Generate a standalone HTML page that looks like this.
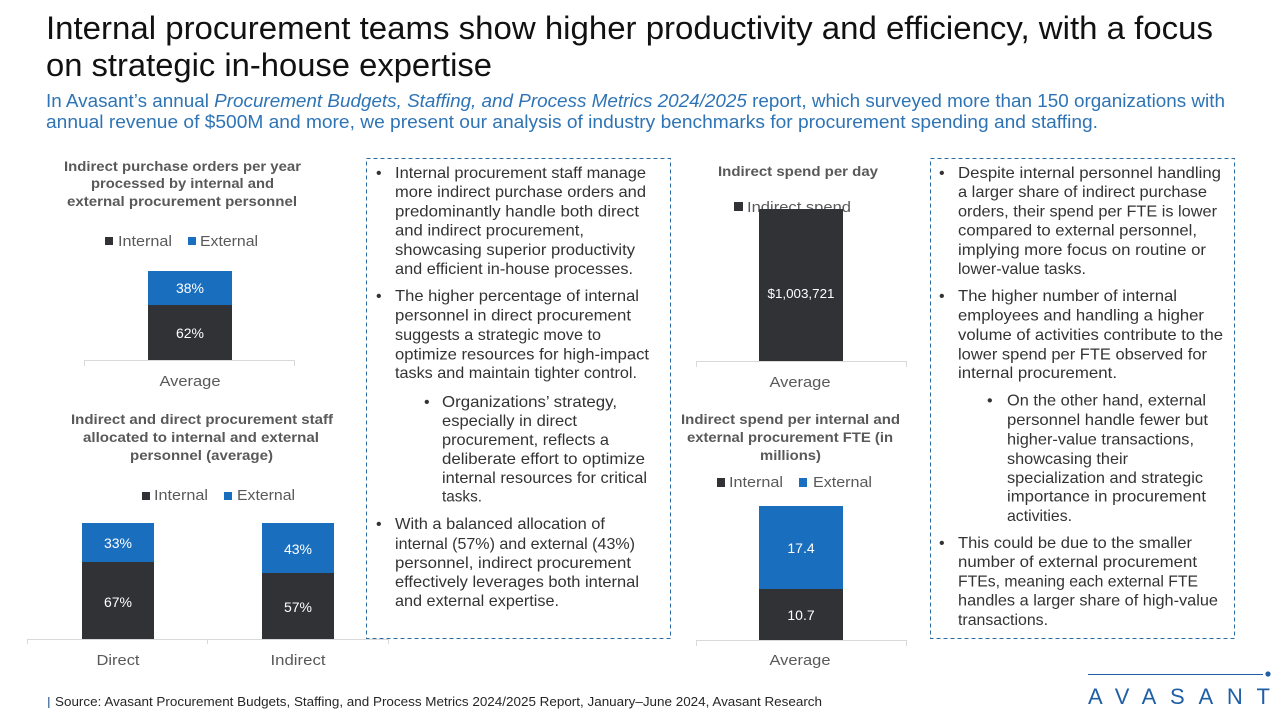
<!DOCTYPE html>
<html>
<head>
<meta charset="utf-8">
<style>
  html,body{margin:0;padding:0;background:#fff;}
  svg{display:block;}
  text{font-family:"Liberation Sans", Arial, sans-serif;}
</style>
</head>
<body>
<svg width="1280" height="720" viewBox="0 0 1280 720" xmlns="http://www.w3.org/2000/svg">
  <rect x="0" y="0" width="1280" height="720" fill="#ffffff"/>

  <!-- Title -->
  <text x="46" y="39" font-size="32" fill="#111" textLength="1167" lengthAdjust="spacingAndGlyphs">Internal procurement teams show higher productivity and efficiency, with a focus</text>
  <text x="46" y="76" font-size="32" fill="#111" textLength="446" lengthAdjust="spacingAndGlyphs">on strategic in-house expertise</text>

  <!-- Subtitle -->
  <text x="46" y="107" font-size="18" fill="#2e74b5" textLength="1179" lengthAdjust="spacingAndGlyphs">In Avasant’s annual <tspan font-style="italic">Procurement Budgets, Staffing, and Process Metrics 2024/2025</tspan> report, which surveyed more than 150 organizations with</text>
  <text x="46" y="128" font-size="18" fill="#2e74b5" textLength="1052" lengthAdjust="spacingAndGlyphs">annual revenue of $500M and more, we present our analysis of industry benchmarks for procurement spending and staffing.</text>

  <!-- ============ Chart 1 ============ -->
  <g font-weight="bold" font-size="14" fill="#595959">
    <text x="64" y="171" textLength="237" lengthAdjust="spacingAndGlyphs">Indirect purchase orders per year</text>
    <text x="91" y="188" textLength="183" lengthAdjust="spacingAndGlyphs">processed by internal and</text>
    <text x="67" y="206" textLength="230" lengthAdjust="spacingAndGlyphs">external procurement personnel</text>
  </g>
  <rect x="105" y="237" width="8" height="8" fill="#303236"/>
  <text x="118" y="246" font-size="15" fill="#595959" textLength="54" lengthAdjust="spacingAndGlyphs">Internal</text>
  <rect x="188" y="237" width="8" height="8" fill="#1a6ebe"/>
  <text x="200" y="246" font-size="15" fill="#595959" textLength="58" lengthAdjust="spacingAndGlyphs">External</text>
  <rect x="148" y="271" width="84" height="34" fill="#1a6ebe"/>
  <rect x="148" y="305" width="84" height="55" fill="#303236"/>
  <text x="190" y="293" font-size="14" fill="#fff" text-anchor="middle">38%</text>
  <text x="190" y="338" font-size="14" fill="#fff" text-anchor="middle">62%</text>
  <path d="M84.5 366 V360.5 H294.5 V366" fill="none" stroke="#d9d9d9" stroke-width="1"/>
  <text x="190" y="386" font-size="15" fill="#595959" text-anchor="middle" textLength="61" lengthAdjust="spacingAndGlyphs">Average</text>

  <!-- ============ Chart 2 ============ -->
  <g font-weight="bold" font-size="14" fill="#595959">
    <text x="71" y="424" textLength="262" lengthAdjust="spacingAndGlyphs">Indirect and direct procurement staff</text>
    <text x="83" y="442" textLength="236" lengthAdjust="spacingAndGlyphs">allocated to internal and external</text>
    <text x="130" y="460" textLength="143" lengthAdjust="spacingAndGlyphs">personnel (average)</text>
  </g>
  <rect x="142" y="492" width="8" height="8" fill="#303236"/>
  <text x="154" y="500" font-size="15" fill="#595959" textLength="54" lengthAdjust="spacingAndGlyphs">Internal</text>
  <rect x="224" y="492" width="8" height="8" fill="#1a6ebe"/>
  <text x="237" y="500" font-size="15" fill="#595959" textLength="58" lengthAdjust="spacingAndGlyphs">External</text>
  <rect x="82" y="523" width="72" height="39" fill="#1a6ebe"/>
  <rect x="82" y="562" width="72" height="77" fill="#303236"/>
  <rect x="262" y="523" width="72" height="50" fill="#1a6ebe"/>
  <rect x="262" y="573" width="72" height="66" fill="#303236"/>
  <text x="118" y="548" font-size="14" fill="#fff" text-anchor="middle">33%</text>
  <text x="118" y="607" font-size="14" fill="#fff" text-anchor="middle">67%</text>
  <text x="298" y="554" font-size="14" fill="#fff" text-anchor="middle">43%</text>
  <text x="298" y="612" font-size="14" fill="#fff" text-anchor="middle">57%</text>
  <path d="M27.5 644 V639.5 H388.5 V644 M207.5 639.5 V644" fill="none" stroke="#d9d9d9" stroke-width="1"/>
  <text x="118" y="665" font-size="15" fill="#595959" text-anchor="middle" textLength="43" lengthAdjust="spacingAndGlyphs">Direct</text>
  <text x="298" y="665" font-size="15" fill="#595959" text-anchor="middle" textLength="55" lengthAdjust="spacingAndGlyphs">Indirect</text>

  <!-- ============ Text box 1 ============ -->
  <rect x="366.5" y="158.5" width="304" height="480" fill="none" stroke="#2e6da4" stroke-width="1" stroke-dasharray="4 3"/>
  <g font-size="16" fill="#333">
    <text x="376" y="178">•</text>
    <text x="395" y="178" textLength="251" lengthAdjust="spacingAndGlyphs">Internal procurement staff manage</text>
    <text x="395" y="197" textLength="251" lengthAdjust="spacingAndGlyphs">more indirect purchase orders and</text>
    <text x="395" y="216.5" textLength="244" lengthAdjust="spacingAndGlyphs">predominantly handle both direct</text>
    <text x="395" y="235.5" textLength="189" lengthAdjust="spacingAndGlyphs">and indirect procurement,</text>
    <text x="395" y="255" textLength="240" lengthAdjust="spacingAndGlyphs">showcasing superior productivity</text>
    <text x="395" y="274" textLength="238" lengthAdjust="spacingAndGlyphs">and efficient in-house processes.</text>

    <text x="376" y="301">•</text>
    <text x="395" y="301" textLength="244" lengthAdjust="spacingAndGlyphs">The higher percentage of internal</text>
    <text x="395" y="320.5" textLength="236" lengthAdjust="spacingAndGlyphs">personnel in direct procurement</text>
    <text x="395" y="340" textLength="206" lengthAdjust="spacingAndGlyphs">suggests a strategic move to</text>
    <text x="395" y="359.5" textLength="254" lengthAdjust="spacingAndGlyphs">optimize resources for high-impact</text>
    <text x="395" y="378" textLength="242" lengthAdjust="spacingAndGlyphs">tasks and maintain tighter control.</text>

    <text x="424" y="407">•</text>
    <text x="442" y="407" textLength="175" lengthAdjust="spacingAndGlyphs">Organizations’ strategy,</text>
    <text x="442" y="426" textLength="135" lengthAdjust="spacingAndGlyphs">especially in direct</text>
    <text x="442" y="445" textLength="167" lengthAdjust="spacingAndGlyphs">procurement, reflects a</text>
    <text x="442" y="464" textLength="203" lengthAdjust="spacingAndGlyphs">deliberate effort to optimize</text>
    <text x="442" y="483" textLength="205" lengthAdjust="spacingAndGlyphs">internal resources for critical</text>
    <text x="442" y="501.5" textLength="40" lengthAdjust="spacingAndGlyphs">tasks.</text>

    <text x="376" y="529">•</text>
    <text x="395" y="529" textLength="210" lengthAdjust="spacingAndGlyphs">With a balanced allocation of</text>
    <text x="395" y="549" textLength="240" lengthAdjust="spacingAndGlyphs">internal (57%) and external (43%)</text>
    <text x="395" y="568" textLength="236" lengthAdjust="spacingAndGlyphs">personnel, indirect procurement</text>
    <text x="395" y="587" textLength="244" lengthAdjust="spacingAndGlyphs">effectively leverages both internal</text>
    <text x="395" y="606" textLength="164" lengthAdjust="spacingAndGlyphs">and external expertise.</text>
  </g>

  <!-- ============ Chart 3 ============ -->
  <text x="718" y="176" font-weight="bold" font-size="14" fill="#595959" textLength="160" lengthAdjust="spacingAndGlyphs">Indirect spend per day</text>
  <rect x="734" y="202" width="9" height="9" fill="#303236"/>
  <text x="747" y="212" font-size="15" fill="#595959" textLength="104" lengthAdjust="spacingAndGlyphs">Indirect spend</text>
  <rect x="759" y="209" width="84" height="152" fill="#303236"/>
  <text x="801" y="298" font-size="13" fill="#fff" text-anchor="middle" textLength="67" lengthAdjust="spacingAndGlyphs">$1,003,721</text>
  <path d="M696.5 367 V361.5 H906.5 V367" fill="none" stroke="#d9d9d9" stroke-width="1"/>
  <text x="800" y="387" font-size="15" fill="#595959" text-anchor="middle" textLength="61" lengthAdjust="spacingAndGlyphs">Average</text>

  <!-- ============ Chart 4 ============ -->
  <g font-weight="bold" font-size="14" fill="#595959">
    <text x="681" y="424" textLength="219" lengthAdjust="spacingAndGlyphs">Indirect spend per internal and</text>
    <text x="687" y="442" textLength="206" lengthAdjust="spacingAndGlyphs">external procurement FTE (in</text>
    <text x="760" y="460" textLength="61" lengthAdjust="spacingAndGlyphs">millions)</text>
  </g>
  <rect x="717" y="478" width="8" height="9" fill="#303236"/>
  <text x="729" y="487" font-size="15" fill="#595959" textLength="54" lengthAdjust="spacingAndGlyphs">Internal</text>
  <rect x="799" y="478" width="8" height="9" fill="#1a6ebe"/>
  <text x="813" y="487" font-size="15" fill="#595959" textLength="59" lengthAdjust="spacingAndGlyphs">External</text>
  <rect x="759" y="506" width="84" height="83" fill="#1a6ebe"/>
  <rect x="759" y="589" width="84" height="51" fill="#303236"/>
  <text x="801" y="553" font-size="14" fill="#fff" text-anchor="middle">17.4</text>
  <text x="801" y="620" font-size="14" fill="#fff" text-anchor="middle">10.7</text>
  <path d="M696.5 646 V640.5 H906.5 V646" fill="none" stroke="#d9d9d9" stroke-width="1"/>
  <text x="800" y="665" font-size="15" fill="#595959" text-anchor="middle" textLength="61" lengthAdjust="spacingAndGlyphs">Average</text>

  <!-- ============ Text box 2 ============ -->
  <rect x="930.5" y="158.5" width="304" height="480" fill="none" stroke="#2e6da4" stroke-width="1" stroke-dasharray="4 3"/>
  <g font-size="16" fill="#333">
    <text x="939" y="178">•</text>
    <text x="958" y="178" textLength="263" lengthAdjust="spacingAndGlyphs">Despite internal personnel handling</text>
    <text x="958" y="197" textLength="249" lengthAdjust="spacingAndGlyphs">a larger share of indirect purchase</text>
    <text x="958" y="216.5" textLength="259" lengthAdjust="spacingAndGlyphs">orders, their spend per FTE is lower</text>
    <text x="958" y="235.5" textLength="239" lengthAdjust="spacingAndGlyphs">compared to external personnel,</text>
    <text x="958" y="255" textLength="248" lengthAdjust="spacingAndGlyphs">implying more focus on routine or</text>
    <text x="958" y="274" textLength="128" lengthAdjust="spacingAndGlyphs">lower-value tasks.</text>

    <text x="939" y="301">•</text>
    <text x="958" y="301" textLength="219" lengthAdjust="spacingAndGlyphs">The higher number of internal</text>
    <text x="958" y="320.5" textLength="246" lengthAdjust="spacingAndGlyphs">employees and handling a higher</text>
    <text x="958" y="340" textLength="265" lengthAdjust="spacingAndGlyphs">volume of activities contribute to the</text>
    <text x="958" y="359.5" textLength="249" lengthAdjust="spacingAndGlyphs">lower spend per FTE observed for</text>
    <text x="958" y="378" textLength="159" lengthAdjust="spacingAndGlyphs">internal procurement.</text>

    <text x="987" y="405.5">•</text>
    <text x="1007" y="405.5" textLength="199" lengthAdjust="spacingAndGlyphs">On the other hand, external</text>
    <text x="1007" y="425" textLength="201" lengthAdjust="spacingAndGlyphs">personnel handle fewer but</text>
    <text x="1007" y="444.5" textLength="187" lengthAdjust="spacingAndGlyphs">higher-value transactions,</text>
    <text x="1007" y="464" textLength="121" lengthAdjust="spacingAndGlyphs">showcasing their</text>
    <text x="1007" y="483" textLength="196" lengthAdjust="spacingAndGlyphs">specialization and strategic</text>
    <text x="1007" y="501.5" textLength="199" lengthAdjust="spacingAndGlyphs">importance in procurement</text>
    <text x="1007" y="521" textLength="65" lengthAdjust="spacingAndGlyphs">activities.</text>

    <text x="939" y="548">•</text>
    <text x="958" y="548" textLength="234" lengthAdjust="spacingAndGlyphs">This could be due to the smaller</text>
    <text x="958" y="567" textLength="239" lengthAdjust="spacingAndGlyphs">number of external procurement</text>
    <text x="958" y="586.5" textLength="240" lengthAdjust="spacingAndGlyphs">FTEs, meaning each external FTE</text>
    <text x="958" y="605.5" textLength="260" lengthAdjust="spacingAndGlyphs">handles a larger share of high-value</text>
    <text x="958" y="625" textLength="90" lengthAdjust="spacingAndGlyphs">transactions.</text>
  </g>

  <!-- ============ Footer ============ -->
  <rect x="48" y="697" width="1.5" height="11" fill="#5a7fa8"/>
  <text x="55" y="706" font-size="12.5" fill="#262626" textLength="767" lengthAdjust="spacingAndGlyphs">Source: Avasant Procurement Budgets, Staffing, and Process Metrics 2024/2025 Report, January–June 2024, Avasant Research</text>

  <!-- Logo -->
  <line x1="1088" y1="674.5" x2="1263" y2="674.5" stroke="#1f5fa6" stroke-width="1"/>
  <circle cx="1268" cy="674" r="2.6" fill="#1f5fa6"/>
  <text x="1088" y="704" font-size="22" fill="#1f5fa6" textLength="182" lengthAdjust="spacing">AVASANT</text>
</svg>
</body>
</html>
